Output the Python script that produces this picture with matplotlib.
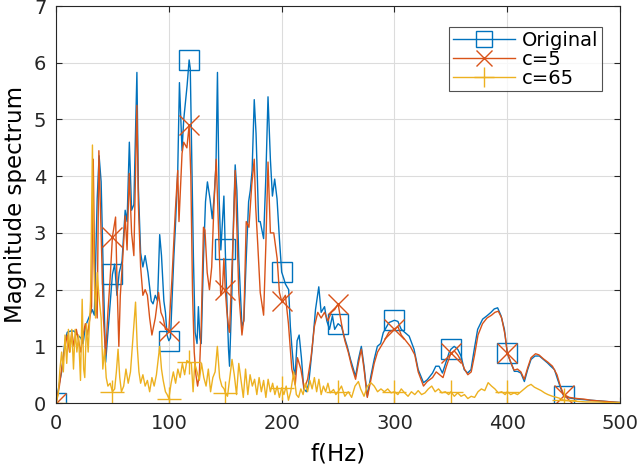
import numpy as np
import matplotlib
matplotlib.use('Agg')
import matplotlib.pyplot as plt

# frequencies (Hz) where the markers sit
marker_f = [0, 50, 100, 118, 150, 200, 250, 300, 350, 400, 450]

# Original spectrum
f_orig = [0, 3, 5, 8, 10, 13, 16, 19, 22, 24, 26, 29, 32, 34, 36.5, 38.2, 40, 42, 44, 47,
          50, 52, 54, 56, 58.5, 61.3, 63, 65, 67, 69, 71.7, 73, 75, 77, 79, 81.5, 84.4, 86, 88, 90,
          91.9, 93.5, 95.6, 97, 98.4, 100, 101.5, 102.8, 104.5, 105.8, 107.9, 109.4, 111.7, 113.2, 116.2, 118,
          119, 120.3, 121.8, 123.3, 125, 126.2, 127.5, 128.7, 130.7, 132.5, 134.2, 136.5, 138.5, 140.2,
          141.8, 143.1, 144.6, 146.1, 148.8, 150, 151.2, 152.9, 153.8, 155.9, 157.3, 158.8, 160.3, 162,
          164.8, 166.5, 168.6, 170.7, 172.2, 173.8, 175.7, 177.3, 179.6, 181, 184, 186, 187.9, 190,
          191.8, 193.8, 195.9, 198, 200, 201.8, 203.3, 206.2, 207.7, 209, 210.7, 212, 213.7, 215.5,
          217.5, 219.6, 222, 224, 227, 230, 232.9, 235, 238, 240, 242.4, 245, 247, 250, 253, 255,
          258.1, 261, 265.5, 268, 270.6, 273, 275.9, 279, 282, 284.8, 287.7, 290, 295.1, 300, 303,
          306, 309.5, 313, 317.3, 321, 325.7, 329, 333.7, 336.6, 339.5, 342.5, 345.5, 348.4, 350,
          352.9, 356, 359, 361.8, 364.8, 367.8, 370.7, 373.7, 378.1, 382, 385.5, 388.4, 391.4, 394.4,
          397.4, 400, 403, 406.2, 409, 412, 415.1, 418, 421, 424.5, 428.4, 432, 435.5, 438.5, 441.8,
          444.7, 447.7, 450, 455.1, 462, 468, 474.4, 480, 487, 493, 500]
y_orig = [0, 0.35, 0.55, 1.1, 1.25, 1.27, 1.27, 1.2, 1.15, 1.05, 1.35, 1.5, 1.65, 1.55, 3.6, 4.36, 3.9, 2.2, 0.72, 1.5,
          2.27, 2.45, 1.9, 2.3, 2.5, 3.4, 3.2, 4.6, 3.4, 3.5, 5.83, 3.8, 2.65, 2.4, 2.6, 2.3, 1.8, 1.75, 1.9, 1.8,
          2.97, 2.6, 1.8, 1.6, 1.2, 1.1, 1.15, 1.8, 2.6, 3.1, 4.1, 5.65, 4.45, 5.0, 5.6, 6.05,
          5.9, 4.3, 2.55, 1.25, 1.05, 1.7, 1.15, 1.05, 2.55, 3.55, 3.9, 3.6, 3.25, 3.65,
          4.2, 5.83, 3.6, 2.7, 3.65, 2.72, 1.95, 0.95, 0.65, 1.95, 3.2, 4.2, 3.75, 2.55,
          1.35, 1.45, 2.55, 3.55, 3.75, 4.1, 5.35, 4.75, 3.2, 3.2, 2.9, 4.0, 5.4, 4.3,
          3.65, 3.95, 3.6, 2.9, 2.31, 2.2, 2.1, 2.0, 1.35, 1.0, 0.6, 0.5, 1.1, 1.2,
          0.8, 0.25, 0.2, 0.35, 0.95, 1.65, 2.05, 1.6, 1.7, 1.45, 1.3, 1.54, 1.3, 1.4, 1.35, 1.2,
          1.0, 0.77, 0.47, 0.77, 1.0, 0.65, 0.12, 0.47, 0.77, 1.0, 1.05, 1.24, 1.42, 1.46, 1.44,
          1.3, 1.24, 1.18, 0.95, 0.59, 0.36, 0.41, 0.53, 0.65, 0.65, 0.53, 0.71, 0.89, 0.95,
          1.0, 0.95, 0.83, 0.59, 0.53, 0.59, 0.95, 1.3, 1.48, 1.54, 1.6, 1.66, 1.68, 1.54,
          1.3, 0.88, 0.72, 0.56, 0.56, 0.53, 0.38, 0.59, 0.77, 0.83, 0.83, 0.77, 0.71, 0.65, 0.59,
          0.41, 0.24, 0.12, 0.09, 0.07, 0.06, 0.05, 0.04, 0.03, 0.02, 0.01]

# c = 5
f_c5 = [0, 3, 5, 8, 10, 12, 14, 16, 18, 20, 22, 24, 26, 28, 30, 31.5, 33, 34.5, 36.5, 38, 40, 42, 44, 46, 48,
        50, 52.8, 54, 55.7, 57, 59, 61.3, 63, 64.9, 67, 69, 71.7, 73, 75, 77, 79, 81, 83, 85, 88, 90.9,
        93, 95, 97, 98.5, 100, 102.8, 105.8, 107.9, 109, 111.7, 113.2, 116, 118, 119.5, 121, 122.5, 124,
        125.5, 127, 128.7, 130.7, 132, 134, 136, 138, 140, 142, 144, 146, 147.5, 148.8, 150, 151.5,
        152.9, 153.8, 155, 157.3, 158.8, 160.3, 162, 164.8, 166.5, 168.6, 171, 173.5, 175.7, 177, 178.8,
        181, 184, 186, 187.9, 190, 193, 196, 198, 200, 203.3, 206, 209, 212, 214, 217, 220, 223, 226,
        229, 232, 235, 238, 241, 244, 247, 250, 253, 256, 259, 262, 265.5, 268, 270.6, 273, 275.9, 279,
        282, 285, 288, 291, 295, 300, 303, 306, 310, 314, 318, 321, 325.7, 329, 333.7, 337, 340, 343,
        346, 350, 353, 356, 359, 362, 365, 368, 371, 374, 378, 382, 386, 389, 392, 395, 398, 400, 403,
        406, 409, 412, 415, 418, 421, 425, 428, 432, 436, 440, 444, 447, 450, 455, 462, 468, 474, 480,
        487, 493, 500]
y_c5 = [0, 0.3, 0.6, 1.0, 1.2, 0.9, 1.25, 1.0, 1.3, 1.1, 0.9, 1.2, 1.4, 1.2, 1.5, 1.7, 4.3, 2.0, 1.5, 4.45, 3.0, 1.5, 0.85, 1.6, 2.2,
        2.93, 3.28, 2.2, 1.0, 1.9, 2.5, 3.3, 2.7, 4.05, 3.0, 2.6, 5.25, 3.5, 2.4, 1.9, 2.0, 1.9, 1.5, 1.2, 1.5, 1.95,
        1.6, 1.5, 1.3, 1.3, 1.27, 2.2, 3.4, 4.1, 3.2, 4.4, 4.6, 4.5, 4.9, 4.0, 1.95, 0.9, 0.5,
        0.3, 0.5, 1.35, 3.1, 3.05, 2.3, 2.0, 2.4, 3.5, 4.3, 3.1, 1.9, 2.0, 2.55, 2.0, 1.6,
        1.35, 1.25, 1.9, 3.1, 4.1, 3.1, 1.95, 1.2, 1.5, 3.2, 3.1, 3.85, 4.3, 3.45, 2.8,
        1.95, 1.55, 2.8, 4.25, 3.0, 3.0, 2.55, 1.95, 1.8, 1.9, 1.4, 0.6, 0.32, 0.8, 0.6, 0.25, 0.42, 0.8,
        1.35, 1.6, 1.5, 1.6, 1.45, 1.6, 1.65, 1.75, 1.4, 1.1, 0.9, 0.65, 0.42, 0.7, 0.95, 0.6, 0.1, 0.4,
        0.7, 0.9, 1.0, 1.1, 1.25, 1.3, 1.35, 1.2, 1.1, 1.0, 0.85, 0.55, 0.3, 0.38, 0.45, 0.55, 0.5, 0.45,
        0.65, 0.88, 0.92, 0.85, 0.75, 0.6, 0.5, 0.55, 0.85, 1.2, 1.4, 1.5, 1.55, 1.6, 1.62, 1.5, 1.2, 0.88, 0.72,
        0.58, 0.6, 0.55, 0.42, 0.62, 0.8, 0.87, 0.85, 0.78, 0.72, 0.65, 0.5, 0.3, 0.15, 0.1, 0.08, 0.07, 0.05, 0.04,
        0.03, 0.02, 0.01]

# c = 65
f_c65 = [0, 2, 3.5, 5, 6.5, 8, 9.5, 11, 12.5, 14, 15.5, 17, 18.5, 20, 21.7, 23.2, 24.5, 25.5, 27, 28.5, 30.6,
         32.3, 33.5, 35, 36.5, 38, 40, 41.5, 43, 44.5, 46, 48, 50, 52, 53.5, 55, 56.5, 58, 60, 62, 64, 66,
         68, 70.5, 72, 73.5, 75, 77, 79, 81, 83, 85, 87, 89, 91.9, 93.5, 95, 97, 98.5, 100, 102, 104, 106,
         108, 110, 112, 114, 116, 118, 120, 121.5, 123, 125, 127, 129, 131, 133, 135, 137, 139, 141, 143,
         145, 147, 149, 150, 152, 154, 156, 158, 160, 162, 164, 166, 168, 170, 172, 174, 176, 178, 180,
         182, 184, 186, 188, 190, 192, 194, 196, 198, 200, 202, 204, 206, 208, 210.7, 213, 215, 217, 219,
         221, 223, 225, 227, 229, 231, 233, 235, 237, 239, 241, 243, 246, 248, 250, 253, 256, 259, 262,
         265, 268, 270, 273, 276, 279, 282, 285, 288, 291, 294, 297, 300, 303, 306, 309, 312, 315, 318,
         321, 324, 327, 330, 333, 336, 339, 342, 345, 348, 350, 353, 356, 359, 362, 365, 368, 371, 374,
         377, 380, 383, 386, 389, 392, 395, 398, 400, 403, 406, 409, 412, 415, 418, 421, 424, 427, 430,
         433, 436, 440, 444, 447, 450, 455, 462, 470, 480, 490, 500]
y_c65 = [0, 0.15, 0.6, 0.9, 0.55, 1.2, 0.7, 1.3, 0.9, 1.3, 0.6, 1.3, 0.9, 1.2, 0.4, 1.83, 0.6, 0.45, 1.4, 0.9, 1.8,
         4.55, 2.5, 1.5, 2.3, 1.9, 1.5, 0.6, 0.95, 0.45, 0.3, 0.35, 0.2, 0.25, 0.55, 0.95, 0.45, 0.2, 0.3, 0.6, 0.35, 0.55,
         1.1, 1.78, 1.0, 0.55, 0.35, 0.5, 0.3, 0.4, 0.2, 0.45, 0.3, 0.5, 1.0, 0.6, 0.4, 0.2, 0.15, 0.08, 0.35, 0.55, 0.35,
         0.6, 0.45, 0.7, 0.5, 0.75, 0.72, 0.7, 0.2, 0.7, 0.55, 0.4, 0.7, 0.45, 0.3, 0.6, 0.2, 0.45, 0.55, 1.0,
         0.45, 0.3, 0.25, 0.18, 0.12, 0.45, 0.77, 0.5, 0.15, 0.7, 0.4, 0.1, 0.6, 0.15, 0.5, 0.3, 0.42, 0.15, 0.45,
         0.2, 0.4, 0.1, 0.42, 0.2, 0.35, 0.15, 0.3, 0.1, 0.27, 0.15, 0.3, 0.05, 0.2, 0.55, 0.15, 0.1, 0.25, 0.15,
         0.35, 0.2, 0.4, 0.25, 0.45, 0.2, 0.42, 0.15, 0.3, 0.2, 0.35, 0.18, 0.24, 0.15, 0.2, 0.3, 0.12, 0.2, 0.1,
         0.3, 0.38, 0.25, 0.12, 0.3, 0.36, 0.3, 0.2, 0.25, 0.2, 0.25, 0.18, 0.2, 0.15, 0.25, 0.18, 0.12, 0.2, 0.15,
         0.22, 0.15, 0.18, 0.25, 0.3, 0.2, 0.25, 0.18, 0.2, 0.15, 0.2, 0.12, 0.18, 0.12, 0.15, 0.08, 0.12, 0.1, 0.2,
         0.25, 0.22, 0.36, 0.3, 0.25, 0.18, 0.2, 0.15, 0.2, 0.15, 0.18, 0.15, 0.2, 0.25, 0.3, 0.33, 0.28, 0.25, 0.22,
         0.18, 0.15, 0.12, 0.1, 0.08, 0.05, 0.04, 0.03, 0.02, 0.02, 0.01, 0.01]

series = [
    (f_orig, y_orig, 'Original', '#0072BD', 's', 14),
    (f_c5, y_c5, 'c=5', '#D95319', 'x', 14),
    (f_c65, y_c65, 'c=65', '#EDB120', '+', 17),
]

fig = plt.figure(figsize=(6.4, 4.66), dpi=100)
ax = fig.add_axes([0.0875, 0.135, 0.8815, 0.852])

for f, y, name, col, mk, ms in series:
    idx = [f.index(m) for m in marker_f]
    ax.plot(f, y, color=col, lw=1.0, marker=mk, markevery=idx, ms=ms,
            mfc='none', mec=col, mew=1.0, label=name)

ax.set_xlim(0, 500)
ax.set_ylim(0, 7)
ax.set_xticks(np.arange(0, 501, 100))
ax.set_yticks(np.arange(0, 8, 1))
ax.grid(True, color='#dcdcdc', lw=0.8)
ax.set_axisbelow(True)
ax.tick_params(direction='in', top=True, right=True, labelsize=14, length=4, colors='#262626')
ax.tick_params(axis='x', pad=8)
ax.tick_params(axis='y', pad=7)
for s in ax.spines.values():
    s.set_color('#262626')
    s.set_linewidth(0.8)
ax.set_xlabel('f(Hz)', fontsize=16.5, labelpad=7)
ax.set_ylabel('Magnitude spectrum', fontsize=16.5, labelpad=5)

leg = ax.legend(loc='upper right', fontsize=14, fancybox=False, edgecolor='#262626',
                handlelength=3.2, handletextpad=0.35, borderpad=0.2, labelspacing=0.0,
                markerscale=0.85, borderaxespad=0, bbox_to_anchor=(0.9686, 0.948))
leg.get_frame().set_linewidth(0.8)

fig.savefig('out.png', dpi=100)
